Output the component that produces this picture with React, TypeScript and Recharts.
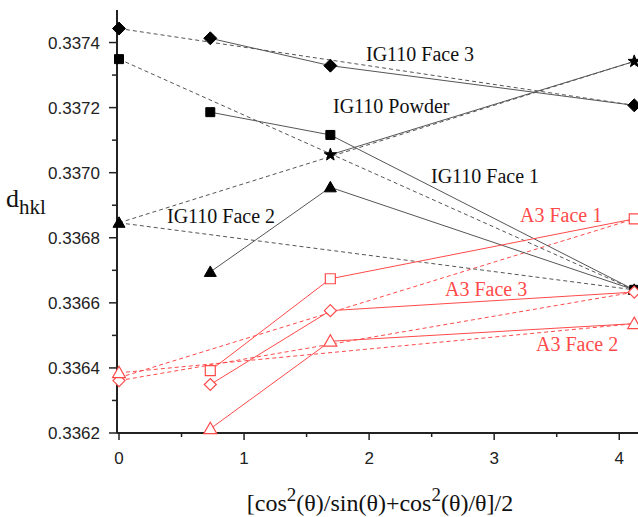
import React from "react";
import { ComposedChart, Line, XAxis, YAxis } from "recharts";

// x positions of the measured faces and of the extrapolated (fit) end points
const X_MEAS = [0.73, 1.69, 4.12];
const X_FIT = [0, 4.12];

// d_hkl values
const ig110Face3 = [0.337413, 0.337329, 0.337207];
const ig110Face3Fit = [0.337443, 0.337207];
const ig110Powder = [0.337186, 0.337116, 0.33664];
const ig110PowderFit = [0.337349, 0.33664];
const ig110Face1 = [null, 0.337055, 0.337342];
const ig110Face1Fit = [0.336846, 0.337342];
const ig110Face2 = [0.336695, 0.336955, 0.33664];
const ig110Face2Fit = [0.336846, 0.33664];
const a3Face1 = [0.336392, 0.336674, 0.336858];
const a3Face1Fit = [0.33637, 0.336858];
const a3Face3 = [0.336349, 0.336576, 0.336633];
const a3Face3Fit = [0.336361, 0.336633];
const a3Face2 = [0.336213, 0.336482, 0.336536];
const a3Face2Fit = [0.336385, 0.336536];

const X_TICKS = [0, 0.5, 1, 1.5, 2, 2.5, 3, 3.5, 4];
const X_TICK_LABELS = ["0", "", "1", "", "2", "", "3", "", "4"];
const Y_TICKS = [0.3362, 0.3363, 0.3364, 0.3365, 0.3366, 0.3367, 0.3368, 0.3369, 0.337, 0.3371, 0.3372, 0.3373, 0.3374];
const Y_TICK_LABELS = ["0.3362", "", "0.3364", "", "0.3366", "", "0.3368", "", "0.3370", "", "0.3372", "", "0.3374"];

const SERIES_NAMES = ["IG110 Face 3", "IG110 Powder", "IG110 Face 1", "IG110 Face 2", "A3 Face 1", "A3 Face 3", "A3 Face 2"];

const BLACK_LINE = "#555";
const RED = "#ff4a4a";
const SERIF = "'Liberation Serif', 'Times New Roman', serif";
const SANS = "'Liberation Sans', Arial, sans-serif";

type Pt = { x: number; y: number };
const pts = (xs: number[], ys: (number | null)[]): Pt[] =>
  xs.map((x, i) => ({ x, y: ys[i] as number })).filter((p) => p.y != null);

type Shape = "diamond" | "square" | "triangle" | "star";

function markerPath(shape: Shape, cx: number, cy: number, open: boolean): string {
  if (shape === "diamond") {
    const r = open ? 6 : 6.5;
    return `M${cx},${cy - r}L${cx + r},${cy}L${cx},${cy + r}L${cx - r},${cy}Z`;
  }
  if (shape === "square") {
    const h = open ? 5 : 4.5;
    return `M${cx - h},${cy - h}H${cx + h}V${cy + h}H${cx - h}Z`;
  }
  if (shape === "triangle") {
    const w = open ? 6.5 : 6;
    return `M${cx},${cy - w}L${cx + w},${cy + w * 0.75}L${cx - w},${cy + w * 0.75}Z`;
  }
  let d = "";
  for (let i = 0; i < 10; i++) {
    const r = i % 2 === 0 ? 6.5 : 2.6;
    const a = -Math.PI / 2 + (i * Math.PI) / 5;
    d += `${i === 0 ? "M" : "L"}${cx + r * Math.cos(a)},${cy + r * Math.sin(a)}`;
  }
  return d + "Z";
}

// dot renderer; `firstOnly` draws a marker only at the x = 0 end of a fit line
const dot = (shape: Shape | null, color: string, open: boolean, firstOnly = false) =>
  (p: any) => {
    if (!shape || (firstOnly && p.index !== 0) || p.cx == null) return <g key={p.index} />;
    return (
      <path
        key={p.index}
        d={markerPath(shape, p.cx, p.cy, open)}
        fill={open ? "#fff" : color}
        stroke={color}
        strokeWidth={open ? 1.2 : 1}
      />
    );
  };

function XTick(props: any) {
  const { x, y, index } = props;
  const label = X_TICK_LABELS[index] ?? "";
  return (
    <g>
      <line x1={x} x2={x} y1={y} y2={y + (label ? 7 : 4)} stroke="#222" strokeWidth={1.5} />
      {label && (
        <text x={x} y={y + 31} textAnchor="middle" fontFamily={SANS} fontSize={17} fill="#222">
          {label}
        </text>
      )}
    </g>
  );
}

function YTick(props: any) {
  const { x, y, index } = props;
  const label = Y_TICK_LABELS[index] ?? "";
  return (
    <g>
      <line x1={x} x2={x - (label ? 8 : 5)} y1={y} y2={y} stroke="#222" strokeWidth={1.5} />
      {label && (
        <text x={x - 17} y={y + 6} textAnchor="end" fontFamily={SANS} fontSize={17} fill="#222">
          {label}
        </text>
      )}
    </g>
  );
}

export default function App(): JSX.Element {
  const fitLine = (key: string, ys: number[], color: string, shape: Shape | null, open: boolean) => (
    <Line
      key={key}
      data={pts(X_FIT, ys)}
      dataKey="y"
      type="linear"
      stroke={color}
      strokeWidth={1}
      strokeDasharray="4 3"
      dot={dot(shape, color === BLACK_LINE ? "#000" : color, open, true)}
      activeDot={false}
      isAnimationActive={false}
    />
  );
  const measLine = (key: string, ys: (number | null)[], color: string, shape: Shape, open: boolean) => (
    <Line
      key={key}
      data={pts(X_MEAS, ys)}
      dataKey="y"
      type="linear"
      stroke={color}
      strokeWidth={1}
      dot={dot(shape, color === BLACK_LINE ? "#000" : color, open)}
      activeDot={false}
      isAnimationActive={false}
    />
  );

  const labels = [
    { x: 366, y: 61, c: "#111" },
    { x: 333, y: 113, c: "#111" },
    { x: 431, y: 183, c: "#111" },
    { x: 167, y: 223, c: "#111" },
    { x: 520, y: 222, c: RED },
    { x: 445, y: 296, c: RED },
    { x: 536, y: 351, c: RED },
  ];

  return (
    <div style={{ position: "absolute", left: 0, top: 0, width: 638, height: 517, background: "#fff" }}>
      <ComposedChart width={638} height={517} margin={{ top: 10, right: 0, left: 0, bottom: 0 }}>
        <XAxis
          type="number"
          dataKey="x"
          domain={[-0.016, 4.15]}
          ticks={X_TICKS}
          interval={0}
          height={84}
          tickSize={0}
          tickMargin={0}
          tickLine={false}
          tick={<XTick />}
          axisLine={{ stroke: "#222", strokeWidth: 2 }}
        />
        <YAxis
          type="number"
          domain={[0.3362, 0.3375]}
          ticks={Y_TICKS}
          interval={0}
          width={117}
          tickSize={0}
          tickMargin={0}
          tickLine={false}
          tick={<YTick />}
          axisLine={{ stroke: "#222", strokeWidth: 2 }}
        />
        {fitLine("f3fit", ig110Face3Fit, BLACK_LINE, "diamond", false)}
        {fitLine("pfit", ig110PowderFit, BLACK_LINE, "square", false)}
        {fitLine("f1fit", ig110Face1Fit, BLACK_LINE, null, false)}
        {fitLine("f2fit", ig110Face2Fit, BLACK_LINE, "triangle", false)}
        {fitLine("a1fit", a3Face1Fit, RED, null, true)}
        {fitLine("a3fit", a3Face3Fit, RED, "diamond", true)}
        {fitLine("a2fit", a3Face2Fit, RED, "triangle", true)}
        {measLine("f3", ig110Face3, BLACK_LINE, "diamond", false)}
        {measLine("p", ig110Powder, BLACK_LINE, "square", false)}
        {measLine("f1", ig110Face1, BLACK_LINE, "star", false)}
        {measLine("f2", ig110Face2, BLACK_LINE, "triangle", false)}
        {measLine("a1", a3Face1, RED, "square", true)}
        {measLine("a3", a3Face3, RED, "diamond", true)}
        {measLine("a2", a3Face2, RED, "triangle", true)}
      </ComposedChart>
      <svg width={638} height={517} style={{ position: "absolute", left: 0, top: 0, pointerEvents: "none" }}>
        {labels.map((l, i) => (
          <text key={i} x={l.x} y={l.y} fontFamily={SERIF} fontSize={20} fill={l.c}>
            {SERIES_NAMES[i]}
          </text>
        ))}
        <text x={6} y={207} fontFamily={SERIF} fontSize={26} fill="#111">
          d<tspan fontSize={21} dy={7}>hkl</tspan>
        </text>
        <text x={380} y={511} textAnchor="middle" fontFamily={SERIF} fontSize={24} fill="#111">
          [cos<tspan fontSize={19} dy={-10}>2</tspan>
          <tspan dy={10}>(θ)/sin(θ)+cos</tspan>
          <tspan fontSize={19} dy={-10}>2</tspan>
          <tspan dy={10}>(θ)/θ]/2</tspan>
        </text>
      </svg>
    </div>
  );
}
